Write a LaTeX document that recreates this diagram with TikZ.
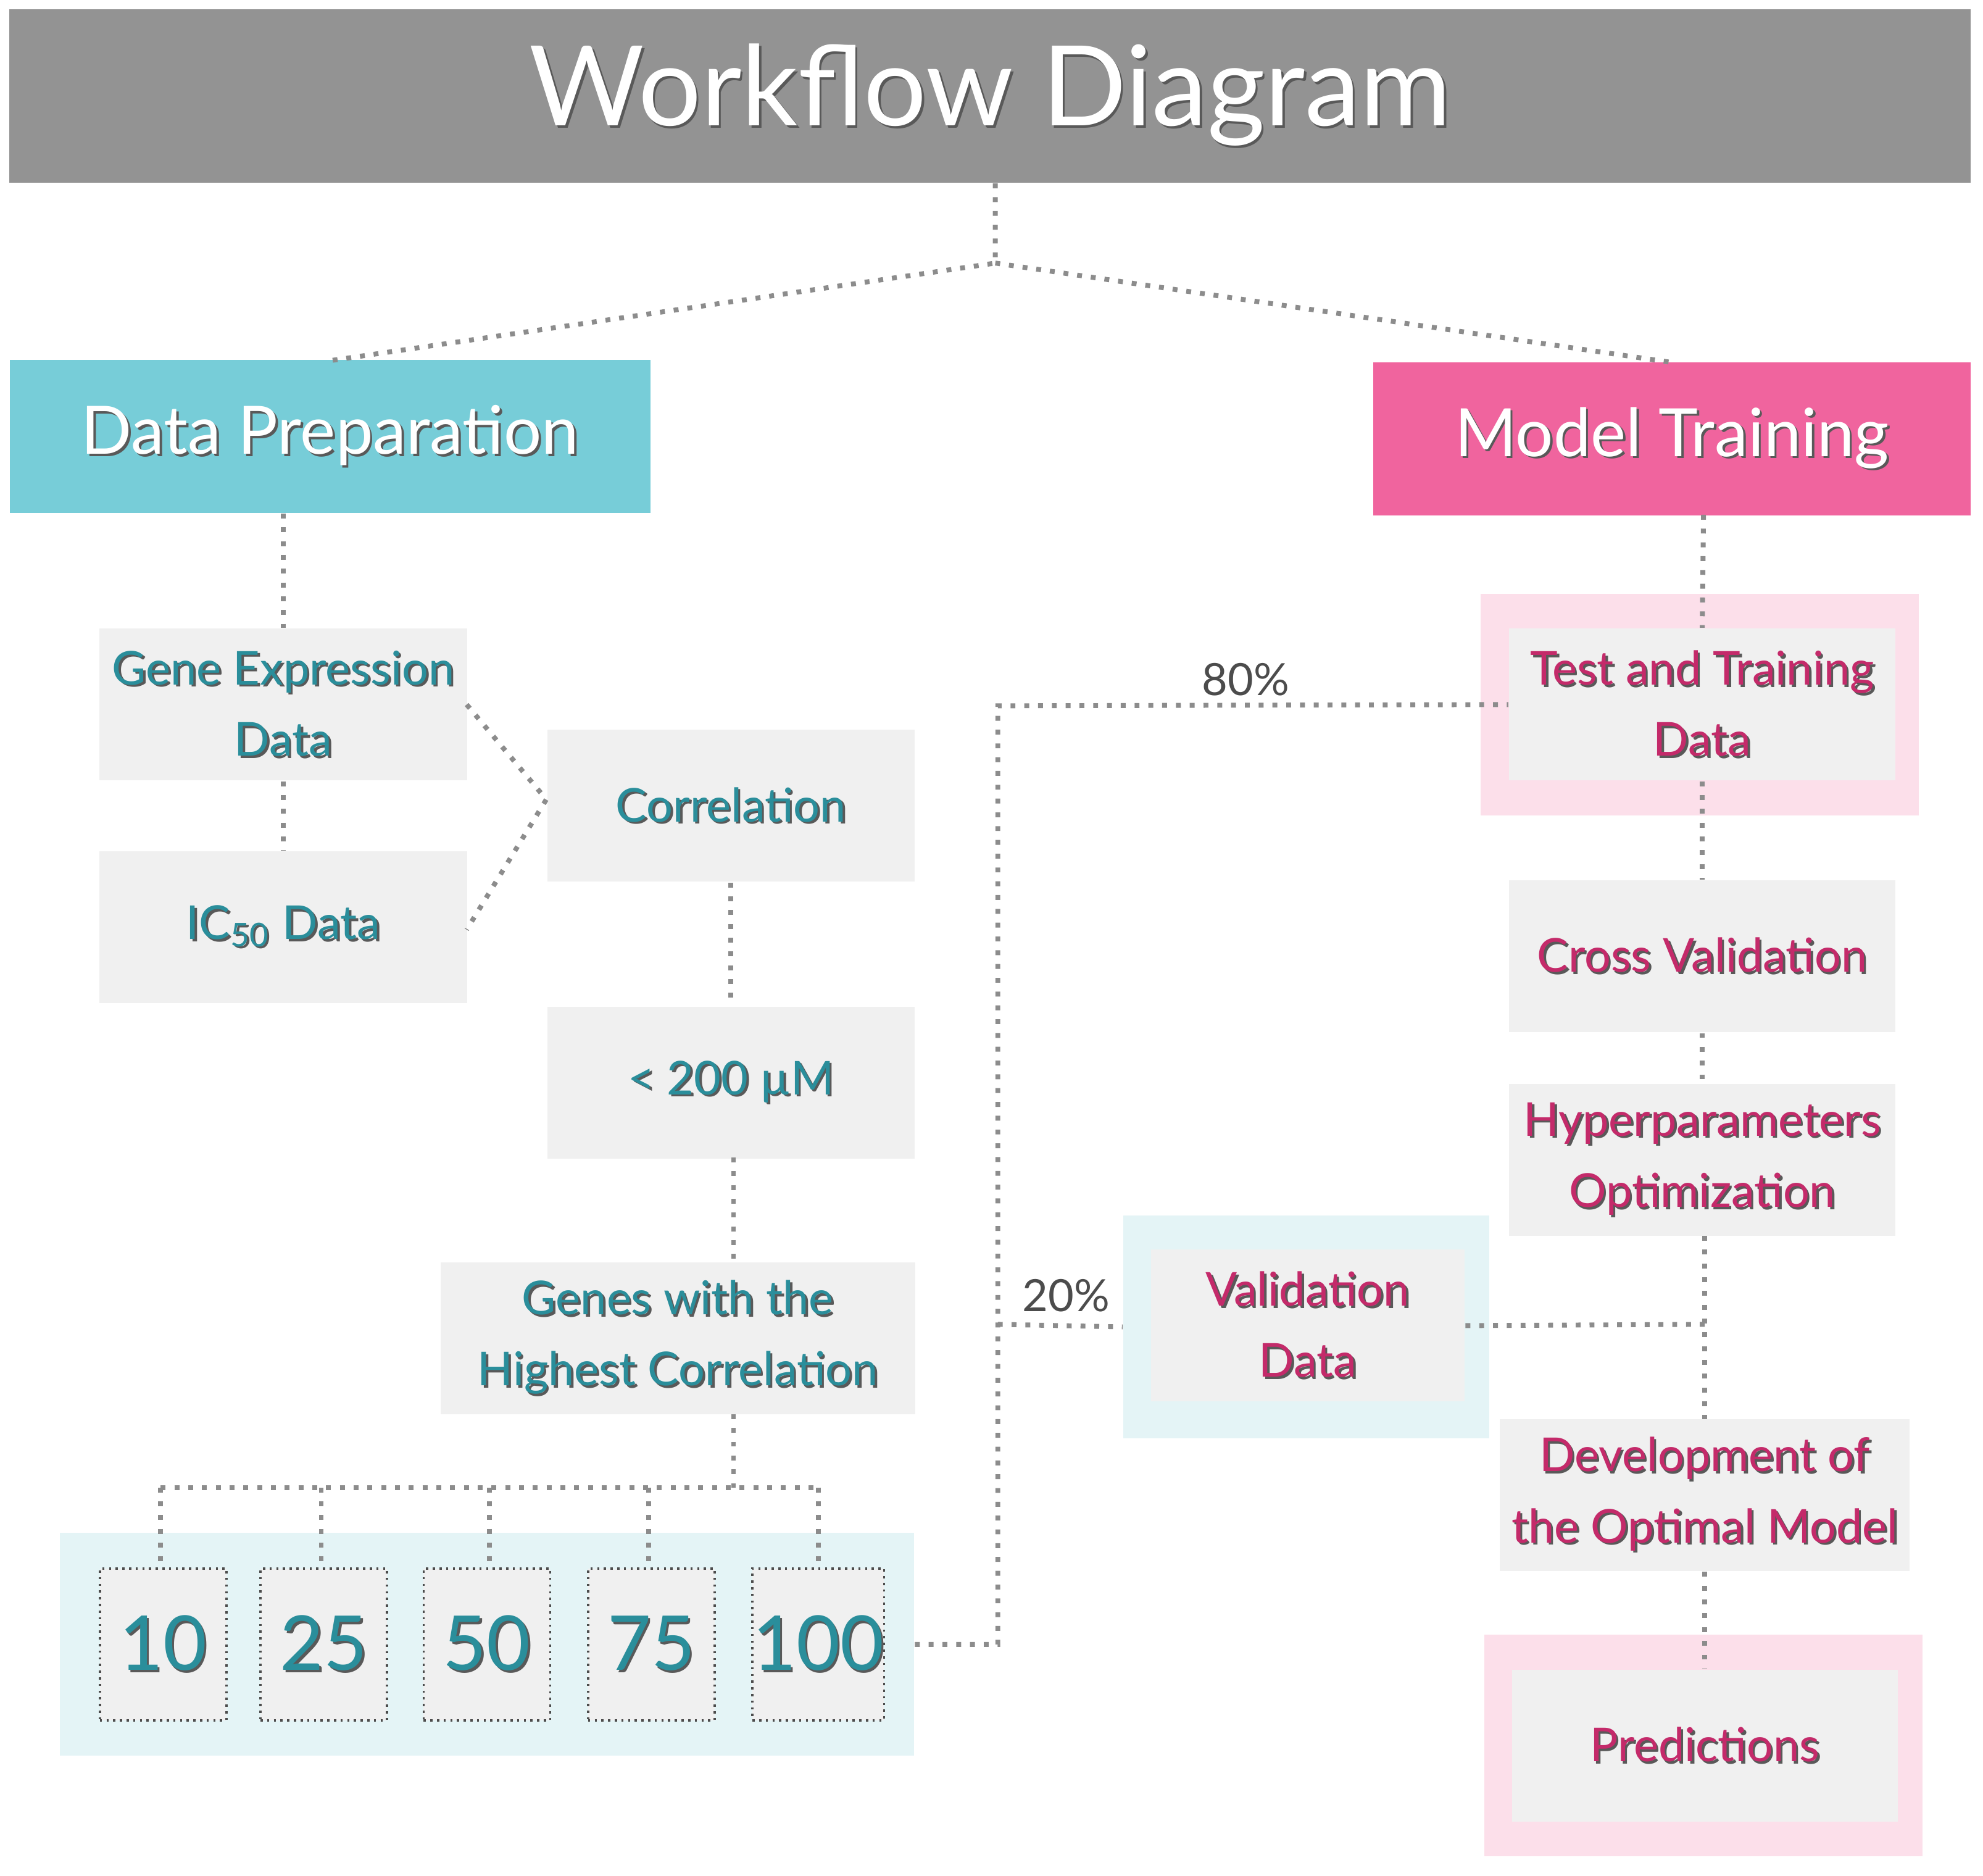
\documentclass[tikz,border=0pt]{standalone}
\usepackage{fontspec}
\setmainfont{Lato}
\usetikzlibrary{positioning}
\definecolor{tealT}{HTML}{2A8E9B}
\definecolor{pinkT}{HTML}{C42A6A}
\definecolor{boxF}{HTML}{F0F0F0}
\definecolor{lblue}{HTML}{E4F4F6}
\definecolor{lpink}{HTML}{FCDFEA}
\definecolor{hblue}{HTML}{77CDD8}
\definecolor{hpink}{HTML}{F0649E}
\definecolor{tgray}{HTML}{939393}
\newcommand\shd[2]{\makebox[0pt][l]{\hspace{0.5pt}\raisebox{-0.5pt}{\textcolor{black!65}{#2}}}\textcolor{#1}{#2}}
\tikzset{
 x=0.01cm,y=-0.01cm,
 box/.style={fill=boxF,draw=none,inner sep=0pt,minimum height=1.2cm,align=center,font=\fontsize{10.5}{16}\selectfont},
 tbox/.style={box,text=tealT},
 pbox/.style={box,text=pinkT},
 num/.style={box,draw=black!70,densely dotted,line width=0.5pt,minimum width=1cm,font=\fontsize{17}{20}\selectfont},
 con/.style={draw=black!45,dotted,line width=1.1pt},
 head/.style={inner sep=0pt,minimum height=1.21cm,text=white,font=\fontsize{15}{18}\selectfont},
 pct/.style={text=black!70,font=\fontsize{10}{12}\selectfont}
}
\begin{document}
\begin{tikzpicture}
\useasboundingbox[fill=white] (0,0) rectangle (1568,1483);
% title
\node[fill=tgray,minimum width=15.5cm,minimum height=1.37cm,inner sep=0pt,text=white,font=\fontsize{25}{30}\selectfont] (title) at (783,76) {\shd{white}{Workflow Diagram}};
\coordinate (split) at (787,208);
\node[head,fill=hblue,minimum width=5.06cm] (dp) at (261,345) {\shd{white}{Data Preparation}};
\node[head,fill=hpink,minimum width=4.72cm] (mt) at (1322,347) {\shd{white}{Model Training}};
\draw[con] (787,145) -- (split) -- (262,285);
\draw[con] (split) -- (1325,287);
% left column
\node[tbox,minimum width=2.91cm] (ge) at (224,557) {\shd{tealT}{Gene Expression}\\\shd{tealT}{Data}};
\node[tbox,minimum width=2.91cm] (ic) at (224,733) {\shd{tealT}{IC\textsubscript{50} Data}};
\node[tbox,minimum width=2.9cm] (co) at (578,637) {\shd{tealT}{Correlation}};
\node[tbox,minimum width=2.9cm] (lt) at (578,856) {\shd{tealT}{< 200 µM}};
\node[tbox,minimum width=3.75cm] (gh) at (536,1058) {\shd{tealT}{Genes with the}\\\shd{tealT}{Highest Correlation}};
\draw[con] (224,406) -- (ge.north);
\draw[con] (ge) -- (ic);
\coordinate (cj) at (432,632);
\draw[con] (369,557) -- (cj) -- (369,735);
\draw[con] (co.south) -- (lt.north);
\draw[con] (580,915) -- (580,998);
\node[fill=lblue,minimum width=6.75cm,minimum height=1.76cm,inner sep=0pt] (panel) at (385,1300) {};
\coordinate (hb) at (580,1176);
\draw[con] (580,1118) -- (hb);
\draw[con] (127,1176) -- (647,1176);
\foreach \n/\x in {10/129,25/256,50/385,75/515,100/647}{
  \node[num,text=tealT] (n\n) at (\x,1300) {\shd{tealT}{\n}};
}
\foreach \n/\x in {10/127,25/254,50/387,75/513,100/647}{
  \draw[con] (\x,1176) -- (\x,1240);
}
% right column
\node[fill=lpink,minimum width=3.46cm,minimum height=1.75cm,inner sep=0pt] (pp1) at (1344,557) {};
\node[pbox,minimum width=3.05cm] (tt) at (1346,557) {\shd{pinkT}{Test and Training}\\\shd{pinkT}{Data}};
\node[pbox,minimum width=3.05cm] (cv) at (1346,756) {\shd{pinkT}{Cross Validation}};
\node[pbox,minimum width=3.05cm] (hp) at (1346,917) {\shd{pinkT}{Hyperparameters}\\\shd{pinkT}{Optimization}};
\node[fill=lblue,minimum width=2.89cm,minimum height=1.76cm,inner sep=0pt] (vp) at (1033,1049) {};
\node[pbox,minimum width=2.48cm] (vd) at (1034,1048) {\shd{pinkT}{Validation}\\\shd{pinkT}{Data}};
\node[pbox,minimum width=3.24cm] (dv) at (1348,1182) {\shd{pinkT}{Development of}\\\shd{pinkT}{the Optimal Model}};
\node[fill=lpink,minimum width=3.46cm,minimum height=1.75cm,inner sep=0pt] (pp2) at (1347,1380) {};
\node[pbox,minimum width=3.05cm] (pr) at (1348,1380) {\shd{pinkT}{Predictions}};
\draw[con] (1347,407) -- (tt.north);
\draw[con] (tt) -- (cv);
\draw[con] (cv) -- (hp);
\coordinate (vj) at (1348,1047);
\draw[con] (1348,977) -- (1348,1122);
\draw[con] (vd.east) -- (vj);
\draw[con] (dv) -- (pr);
% split lines
\coordinate (b1) at (789,1300);
\coordinate (b2) at (789,558);
\coordinate (b3) at (789,1047);
\draw[con] (panel.east) -- (b1) -- (b2) -- (tt.west);
\draw[con] (b3) -- (vp.west);
\node[pct] (p80) at (985,537) {80\%};
\node[pct] (p20) at (843,1024) {20\%};
\end{tikzpicture}
\end{document}
